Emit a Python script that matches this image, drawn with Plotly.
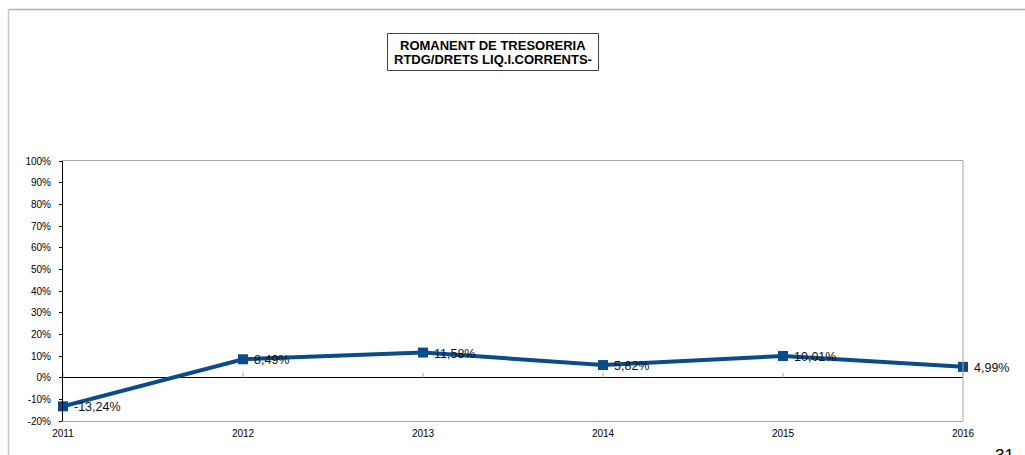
import plotly.graph_objects as go

# Romanent de tresoreria sobre drets liquidats corrents, per exercici
years = [2011, 2012, 2013, 2014, 2015, 2016]
ratio_pct = [-13.24, 8.49, 11.58, 5.82, 10.01, 4.99]
y_ticks = [-20, -10, 0, 10, 20, 30, 40, 50, 60, 70, 80, 90, 100]
title_lines = ["ROMANENT DE TRESORERIA", "RTDG/DRETS LIQ.I.CORRENTS-"]
page_number = "31"

W, H = 1025, 455
L, R, T, B = 63, 62, 161, 34
PW, PH = W - L - R, H - T - B


def px_x(px):
    return (px - L) / PW


def px_y(py):
    return (H - B - py) / PH


FONT = "Liberation Sans, Arial, sans-serif"
BLUE = "#0B4A8B"
GRAY = "#A6A6A6"

labels = [f"{v:.2f}".replace(".", ",") + "%" for v in ratio_pct]

fig = go.Figure()
fig.add_trace(go.Scatter(
    x=years, y=ratio_pct,
    mode="lines+markers",
    line=dict(color=BLUE, width=4),
    marker=dict(symbol="square", size=10, color=BLUE),
    cliponaxis=False,
    hoverinfo="skip",
    showlegend=False,
))

shapes = []
# small tick marks on the zero line for each year
for yr in years:
    shapes.append(dict(type="line", xref="x", yref="y", x0=yr, x1=yr,
                       ysizemode="pixel", yanchor=0, y0=0, y1=5,
                       line=dict(color=GRAY, width=1)))
# right border of the plot area
shapes.append(dict(type="line", xref="paper", yref="paper", x0=1, x1=1, y0=0, y1=1,
                   line=dict(color=GRAY, width=1)))
# outer page frame (top and left)
shapes.append(dict(type="line", xref="paper", yref="paper",
                   x0=px_x(8.5), x1=px_x(1030), y0=px_y(9.5), y1=px_y(9.5),
                   line=dict(color="#B0B0B0", width=1.5)))
shapes.append(dict(type="line", xref="paper", yref="paper",
                   x0=px_x(8.5), x1=px_x(8.5), y0=px_y(9.5), y1=px_y(460),
                   line=dict(color="#C8C8C8", width=1.5)))
# title box
shapes.append(dict(type="rect", xref="paper", yref="paper",
                   x0=px_x(387.5), x1=px_x(598.5), y0=px_y(70.5), y1=px_y(33.5),
                   line=dict(color="#444444", width=1), fillcolor="white"))

annotations = []
# value labels to the right of each point
for yr, v, lab in zip(years, ratio_pct, labels):
    annotations.append(dict(text=lab, xref="x", yref="y", x=yr, y=v,
                            xanchor="left", yanchor="middle", xshift=9, yshift=-1,
                            showarrow=False,
                            font=dict(family=FONT, size=12.5, color="#111111")))
for i, line in enumerate(title_lines):
    annotations.append(dict(text=f"<b>{line}</b>", xref="paper", yref="paper",
                            x=px_x(492.5), y=px_y(45.5 + 14 * i),
                            xanchor="center", yanchor="middle", showarrow=False,
                            font=dict(family=FONT, size=13, color="black")))
annotations.append(dict(text=page_number, xref="paper", yref="paper",
                        x=px_x(1016), y=px_y(444), xanchor="right", yanchor="top",
                        showarrow=False, font=dict(family=FONT, size=17, color="black")))

fig.update_layout(
    width=W, height=H,
    margin=dict(l=L, r=R, t=T, b=B, pad=0),
    paper_bgcolor="white", plot_bgcolor="white",
    font=dict(family=FONT, size=10, color="black"),
    shapes=shapes,
    annotations=annotations,
    xaxis=dict(
        range=[years[0], years[-1]],
        tickvals=years, ticktext=[str(y) for y in years],
        showgrid=False, zeroline=False,
        showline=True, linecolor=GRAY, linewidth=1, mirror=True,
        ticks="", ticklabelstandoff=3,
        tickfont=dict(family=FONT, size=10, color="black"),
        fixedrange=True,
    ),
    yaxis=dict(
        range=[-20, 100],
        tickvals=y_ticks, ticktext=[f"{v}%" for v in y_ticks],
        showgrid=False,
        zeroline=True, zerolinecolor="black", zerolinewidth=1,
        showline=True, linecolor="black", linewidth=1,
        ticks="outside", ticklen=3, tickcolor="black",
        ticklabelstandoff=6,
        tickfont=dict(family=FONT, size=10, color="black"),
        fixedrange=True,
    ),
)

fig.write_html("out.html")
